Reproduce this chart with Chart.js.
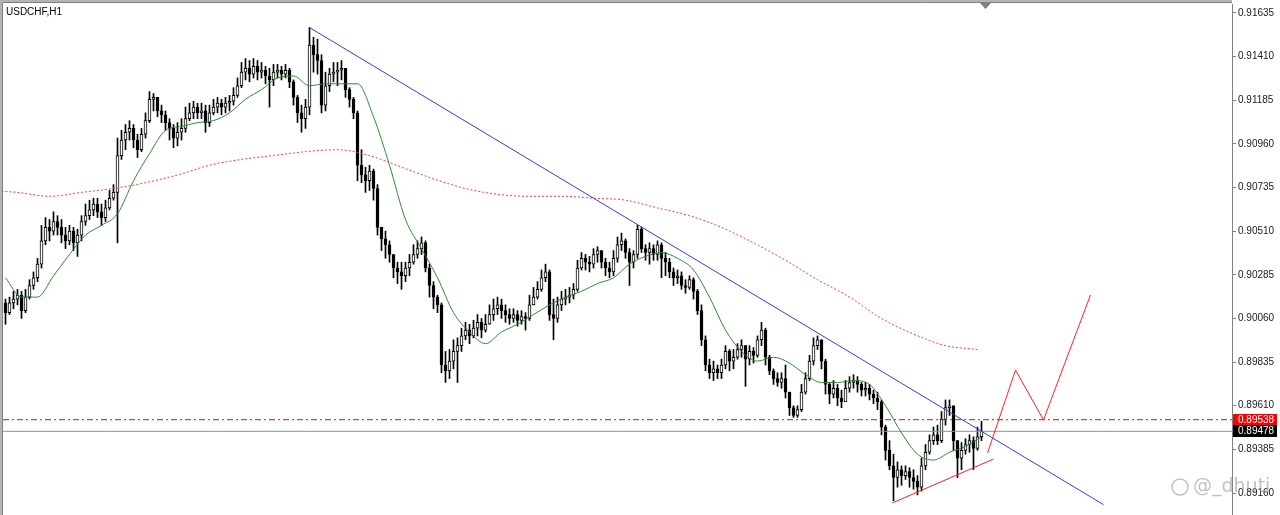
<!DOCTYPE html>
<html>
<head>
<meta charset="utf-8">
<script src="https://cdn.jsdelivr.net/npm/chart.js@4.4.1/dist/chart.umd.min.js"></script>
<style>
  html, body { margin: 0; padding: 0; background: #fff; overflow: hidden; }
  #wrap { width: 1280px; height: 515px; }
</style>
</head>
<body>
<div id="wrap"><canvas id="chart" width="1280" height="515"></canvas></div>
<script>
const symbol = 'USDCHF,H1';

// H1 candles, oldest first
const opens = [
  .9014,.9009,.9014,.9016,.9018,.9010,.9017,.9023,.9027,.9034,
  .9046,.9053,.9051,.9056,.9053,.9049,.9046,.9051,.9045,.9049,
  .9056,.9059,.9062,.9065,.9061,.9058,.9063,.9068,.9071,.9090,
  .9098,.9102,.9104,.9098,.9093,.9101,.9108,.9119,.9120,.9113,
  .9111,.9107,.9104,.9099,.9102,.9104,.9109,.9112,.9115,.9112,
  .9113,.9107,.9112,.9115,.9117,.9115,.9117,.9118,.9121,.9126,
  .9133,.9135,.9132,.9136,.9133,.9134,.9131,.9129,.9133,.9134,
  .9132,.9134,.9128,.9120,.9112,.9109,.9115,.9147,.9142,.9139,
  .9116,.9126,.9132,.9133,.9134,.9135,.9124,.9119,.9112,.9085,
  .9080,.9077,.9082,.9073,.9053,.9047,.9044,.9039,.9032,.9030,
  .9028,.9032,.9035,.9039,.9042,.9045,.9032,.9023,.9017,.9013,
  .8982,.8979,.8984,.8989,.8992,.8997,.9000,.8997,.9001,.9004,
  .9000,.9003,.9008,.9011,.9013,.9010,.9008,.9006,.9008,.9005,
  .9007,.9006,.9013,.9017,.9021,.9027,.9030,.9008,.9006,.9013,
  .9016,.9017,.9018,.9021,.9032,.9037,.9035,.9034,.9039,.9041,
  .9035,.9032,.9030,.9037,.9044,.9046,.9040,.9035,.9039,.9052,
  .9042,.9040,.9042,.9039,.9044,.9037,.9035,.9030,.9027,.9028,
  .9023,.9022,.9026,.9020,.9010,.8995,.8982,.8978,.8980,.8978,
  .8982,.8989,.8984,.8986,.8990,.8992,.8985,.8989,.8987,.8995,
  .9000,.8986,.8979,.8975,.8973,.8975,.8968,.8960,.8956,.8959,
  .8968,.8975,.8984,.8992,.8995,.8984,.8972,.8967,.8970,.8965,
  .8963,.8970,.8973,.8974,.8972,.8969,.8970,.8967,.8965,.8963,
  .8950,.8938,.8930,.8924,.8928,.8925,.8927,.8924,.8922,.8919,
  .8930,.8937,.8943,.8946,.8943,.8954,.8960,.8961,.8943,.8934,
  .8938,.8941,.8943,.8939,.8945
];
const highs = [
  .9016,.9017,.9020,.9021,.9020,.9021,.9026,.9030,.9037,.9054,
  .9058,.9057,.9061,.9059,.9057,.9053,.9054,.9053,.9052,.9059,
  .9065,.9067,.9068,.9068,.9065,.9067,.9072,.9075,.9099,.9103,
  .9106,.9108,.9106,.9101,.9104,.9112,.9123,.9122,.9120,.9116,
  .9113,.9109,.9106,.9107,.9109,.9115,.9117,.9118,.9117,.9117,
  .9116,.9116,.9119,.9120,.9119,.9120,.9121,.9125,.9130,.9138,
  .9140,.9139,.9140,.9139,.9138,.9136,.9135,.9137,.9137,.9136,
  .9137,.9135,.9129,.9121,.9116,.9119,.9156,.9151,.9150,.9142,
  .9133,.9135,.9138,.9138,.9139,.9135,.9125,.9120,.9113,.9093,
  .9084,.9085,.9083,.9075,.9053,.9051,.9046,.9039,.9035,.9035,
  .9035,.9039,.9044,.9046,.9048,.9046,.9034,.9025,.9018,.9014,
  .8989,.8990,.8995,.8996,.9001,.9004,.9003,.9005,.9008,.9006,
  .9008,.9013,.9016,.9017,.9016,.9013,.9011,.9011,.9010,.9010,
  .9009,.9018,.9022,.9025,.9031,.9034,.9031,.9016,.9017,.9020,
  .9021,.9022,.9024,.9036,.9040,.9039,.9038,.9042,.9043,.9041,
  .9037,.9035,.9041,.9048,.9050,.9047,.9042,.9041,.9054,.9053,
  .9044,.9045,.9044,.9046,.9045,.9040,.9037,.9032,.9031,.9030,
  .9026,.9028,.9027,.9021,.9013,.8997,.8985,.8984,.8982,.8985,
  .8992,.8990,.8990,.8993,.8995,.8992,.8992,.8991,.8997,.9004,
  .9001,.8987,.8980,.8978,.8978,.8982,.8968,.8961,.8961,.8972,
  .8978,.8987,.8996,.8997,.8995,.8985,.8973,.8974,.8972,.8969,
  .8974,.8976,.8977,.8976,.8973,.8973,.8972,.8969,.8968,.8964,
  .8951,.8943,.8936,.8932,.8930,.8930,.8929,.8928,.8925,.8934,
  .8941,.8946,.8950,.8951,.8958,.8964,.8964,.8961,.8943,.8942,
  .8944,.8946,.8945,.8950,.8953
];
const lows = [
  .9003,.9008,.9011,.9013,.9006,.9009,.9016,.9021,.9025,.9032,
  .9044,.9046,.9049,.9049,.9045,.9042,.9044,.9041,.9038,.9046,
  .9054,.9057,.9059,.9058,.9054,.9056,.9062,.9067,.9045,.9088,
  .9093,.9098,.9094,.9089,.9092,.9099,.9107,.9113,.9110,.9107,
  .9103,.9098,.9094,.9095,.9098,.9102,.9108,.9109,.9109,.9109,
  .9102,.9105,.9111,.9112,.9111,.9112,.9113,.9116,.9120,.9125,
  .9129,.9128,.9130,.9129,.9130,.9127,.9115,.9126,.9130,.9129,
  .9130,.9125,.9116,.9107,.9102,.9104,.9111,.9133,.9132,.9112,
  .9113,.9123,.9128,.9126,.9129,.9120,.9115,.9109,.9077,.9076,
  .9071,.9072,.9067,.9049,.9041,.9037,.9035,.9027,.9024,.9021,
  .9025,.9028,.9034,.9037,.9039,.9030,.9017,.9011,.9009,.8978,
  .8973,.8975,.8980,.8973,.8989,.8995,.8993,.8996,.8997,.8996,
  .8999,.9003,.9005,.9008,.9006,.9004,.9003,.9004,.9002,.9003,
  .9000,.9005,.9013,.9016,.9020,.9025,.9005,.8995,.9004,.9010,
  .9013,.9014,.9016,.9020,.9031,.9031,.9030,.9032,.9035,.9032,
  .9028,.9027,.9028,.9035,.9041,.9037,.9023,.9032,.9037,.9040,
  .9036,.9034,.9036,.9036,.9027,.9028,.9027,.9023,.9024,.9021,
  .9019,.9021,.9016,.9008,.8992,.8979,.8975,.8974,.8975,.8975,
  .8980,.8979,.8980,.8985,.8986,.8971,.8982,.8983,.8986,.8992,
  .8982,.8977,.8972,.8971,.8970,.8965,.8956,.8955,.8955,.8958,
  .8967,.8974,.8982,.8990,.8980,.8967,.8962,.8965,.8961,.8960,
  .8965,.8968,.8970,.8968,.8966,.8966,.8964,.8962,.8959,.8946,
  .8933,.8928,.8912,.8919,.8920,.8923,.8919,.8918,.8915,.8917,
  .8928,.8936,.8941,.8941,.8942,.8951,.8956,.8938,.8924,.8928,
  .8936,.8937,.8928,.8938,.8943
];
const closes = [
  .9009,.9014,.9016,.9018,.9010,.9017,.9023,.9027,.9034,.9046,
  .9053,.9051,.9056,.9053,.9049,.9046,.9051,.9045,.9049,.9056,
  .9059,.9062,.9065,.9061,.9058,.9063,.9068,.9071,.9090,.9098,
  .9102,.9104,.9098,.9093,.9101,.9108,.9119,.9120,.9113,.9111,
  .9107,.9104,.9099,.9102,.9104,.9109,.9112,.9115,.9112,.9113,
  .9107,.9112,.9115,.9117,.9115,.9117,.9118,.9121,.9126,.9133,
  .9135,.9132,.9136,.9133,.9134,.9131,.9129,.9133,.9134,.9132,
  .9134,.9128,.9120,.9112,.9109,.9115,.9147,.9142,.9139,.9116,
  .9126,.9132,.9133,.9134,.9135,.9124,.9119,.9112,.9085,.9080,
  .9077,.9082,.9073,.9053,.9047,.9044,.9039,.9032,.9030,.9028,
  .9032,.9035,.9039,.9042,.9045,.9032,.9023,.9017,.9013,.8982,
  .8979,.8984,.8989,.8992,.8997,.9000,.8997,.9001,.9004,.9000,
  .9003,.9008,.9011,.9013,.9010,.9008,.9006,.9008,.9005,.9007,
  .9006,.9013,.9017,.9021,.9027,.9030,.9008,.9006,.9013,.9016,
  .9017,.9018,.9021,.9032,.9037,.9035,.9034,.9039,.9041,.9035,
  .9032,.9030,.9037,.9044,.9046,.9040,.9035,.9039,.9052,.9042,
  .9040,.9042,.9039,.9044,.9037,.9035,.9030,.9027,.9028,.9023,
  .9022,.9026,.9020,.9010,.8995,.8982,.8978,.8980,.8978,.8982,
  .8989,.8984,.8986,.8990,.8992,.8985,.8989,.8987,.8995,.9000,
  .8986,.8979,.8975,.8973,.8975,.8968,.8960,.8956,.8959,.8968,
  .8975,.8984,.8992,.8995,.8984,.8972,.8967,.8970,.8965,.8963,
  .8970,.8973,.8974,.8972,.8969,.8970,.8967,.8965,.8963,.8950,
  .8938,.8930,.8924,.8928,.8925,.8927,.8924,.8922,.8919,.8930,
  .8937,.8943,.8946,.8943,.8954,.8960,.8961,.8943,.8934,.8938,
  .8941,.8943,.8939,.8945,.89478
];

// green MA, one value every 4 bars from bar 0
const greenMa = [
  .9027,.9017,.9017,.9028,.9039,.9049,.9054,.9060,.9077,.9091,
  .9103,.9105,.9107,.9108,.9112,.9119,.9124,.9130,.9131,.9126,
  .9127,.9127,.9127,.9110,.9085,.9057,.9042,.9027,.9009,.8999,
  .8993,.8999,.9003,.9008,.9013,.9017,.9020,.9024,.9027,.9034,
  .9038,.9040,.9037,.9031,.9017,.9000,.8989,.8984,.8986,.8983,
  .8977,.8973,.8973,.8974,.8972,.8961,.8947,.8936,.8933,.8937,
  .8940,.8945
];
// red dotted MA, one value every 8 bars from bar -5
const redMa = [
  .9072,.9071,.9069,.9071,.9073,.9076,.9080,.9085,.9088,.9090,.9092,
  .9093,.9090,.9084,.9078,.9073,.9070,.9069,.9069,.9068,.9067,
  .9063,.9059,.9053,.9045,.9036,.9026,.9017,.9006,.8998,.8992,
  .8990
];

const priceTicks = [0.91635, 0.91410, 0.91185, 0.90960, 0.90735, 0.90510,
                    0.90285, 0.90060, 0.89835, 0.89610, 0.89385, 0.89160];
const askPrice = 0.89538;
const bidPrice = 0.89478;

// drawn objects: [bar, price]
const trendBlue = [[76, 0.9156], [274.5, 0.8910]];
const supportRed = [[221.75, 0.89109], [247, 0.89335]];
const projectionRed = [[245.5, 0.89366], [252.5, 0.89794], [259.5, 0.89537], [271.25, 0.90181]];

const xMin = -0.625;
const xMax = 306.625;

let wicks = [];
let bodies = [];
let bodyColors = [];
for (let i = 0; i < closes.length; i++) {
    wicks.push({x: i, y: [lows[i], highs[i]]});
    bodies.push({x: i, y: [Math.min(opens[i], closes[i]), Math.max(opens[i], closes[i])]});
    bodyColors.push(closes[i] > opens[i] ? '#ffffff' : '#000000');
}
const toPts = (arr) => arr.map(p => ({x: p[0], y: p[1]}));

const decor = {
    id: 'decor',
    beforeDraw(chart) {
        const ctx = chart.ctx;
        ctx.save();
        ctx.fillStyle = '#ffffff';
        ctx.fillRect(0, 0, chart.width, chart.height);
        ctx.restore();
    },
    afterDraw(chart) {
        const ctx = chart.ctx;
        const area = chart.chartArea;
        const y = chart.scales.y;
        ctx.save();
        // frame
        ctx.fillStyle = '#b4b4b4';
        ctx.fillRect(0, 0, 2, chart.height);
        ctx.fillRect(0, 0, area.right, 2);
        ctx.strokeStyle = '#808080';
        ctx.lineWidth = 1;
        ctx.beginPath();
        ctx.moveTo(2.5, chart.height);
        ctx.lineTo(2.5, 2.5);
        ctx.lineTo(area.right, 2.5);
        ctx.stroke();

        // symbol
        ctx.fillStyle = '#000';
        ctx.font = '10px "Liberation Sans", Arial, sans-serif';
        ctx.textBaseline = 'middle';
        ctx.textAlign = 'left';
        ctx.fillText(symbol, 6, 12);

        // chart shift marker
        ctx.fillStyle = '#7f7f7f';
        ctx.beginPath();
        ctx.moveTo(980, 3);
        ctx.lineTo(991, 3);
        ctx.lineTo(985.5, 9);
        ctx.closePath();
        ctx.fill();

        // price labels
        const boxes = [[askPrice, '#ff0000'], [bidPrice, '#000000']];
        boxes.forEach(([p, col]) => {
            const py = Math.round(y.getPixelForValue(p));
            ctx.fillStyle = col;
            ctx.fillRect(area.right + 1, py - 6, 44, 12);
            ctx.fillStyle = '#fff';
            ctx.fillText(p.toFixed(5), area.right + 6, py + 0.5);
        });

        // watermark
        ctx.strokeStyle = 'rgba(150,150,150,0.6)';
        ctx.fillStyle = 'rgba(150,150,150,0.6)';
        ctx.lineWidth = 1.5;
        ctx.beginPath();
        ctx.arc(1180, 487, 8, 0, Math.PI * 2);
        ctx.stroke();
        ctx.font = '19px "DejaVu Sans", sans-serif';
        ctx.fillText('@_dhuti', 1193, 487);
        ctx.restore();
    }
};

const chartEl = document.getElementById('chart').getContext('2d');
const chart = new Chart(chartEl, {
    type: 'bar',
    data: {
        datasets: [
            {
                type: 'line', label: 'trend', data: toPts(trendBlue), order: 1,
                borderColor: '#3c3cd2', borderWidth: 1, pointRadius: 0
            },
            {
                type: 'line', label: 'support', data: toPts(supportRed), order: 1,
                borderColor: '#ff2020', borderWidth: 1, pointRadius: 0
            },
            {
                type: 'line', label: 'projection', data: toPts(projectionRed), order: 1,
                borderColor: '#ff2020', borderWidth: 1, pointRadius: 0
            },
            {
                type: 'line', label: 'ma fast', order: 2,
                data: greenMa.map((v, k) => ({x: k * 4, y: v})),
                borderColor: '#2e8b2e', borderWidth: 1, pointRadius: 0,
                cubicInterpolationMode: 'monotone'
            },
            {
                type: 'line', label: 'ma slow', order: 2,
                data: redMa.map((v, k) => ({x: -5 + k * 8, y: v})),
                borderColor: '#ff3c3c', borderWidth: 1, borderDash: [2, 2], pointRadius: 0,
                cubicInterpolationMode: 'monotone'
            },
            {
                type: 'line', label: 'ask', order: 3,
                data: [{x: xMin, y: askPrice}, {x: xMax, y: askPrice}],
                borderColor: '#ff0000', borderWidth: 1, borderDash: [6, 3, 2, 3], pointRadius: 0
            },
            {
                type: 'line', label: 'bid', order: 3,
                data: [{x: xMin, y: bidPrice}, {x: xMax, y: bidPrice}],
                borderColor: '#8593a0', borderWidth: 1, pointRadius: 0
            },
            {
                label: 'body', data: bodies, order: 5, grouped: false,
                backgroundColor: bodyColors, borderColor: '#000', borderWidth: 1,
                borderSkipped: false, barThickness: 3, minBarLength: 1
            },
            {
                label: 'wick', data: wicks, order: 6, grouped: false,
                backgroundColor: '#000', borderWidth: 0, barThickness: 1
            }
        ]
    },
    options: {
        responsive: false,
        animation: false,
        devicePixelRatio: 1,
        layout: { padding: { left: 3, top: 4, right: 0, bottom: 0 } },
        plugins: { legend: { display: false }, tooltip: { enabled: false } },
        scales: {
            x: {
                type: 'linear', display: false, min: xMin, max: xMax,
                offset: false, grid: { display: false }
            },
            y: {
                position: 'right',
                min: 0.890466, max: 0.916814,
                grid: { drawOnChartArea: false, drawTicks: true, tickLength: 4, color: '#808080' },
                border: { display: true, color: '#808080' },
                afterBuildTicks: (axis) => { axis.ticks = priceTicks.map(v => ({value: v})); },
                afterFit: (axis) => {
                    axis.width = 48;
                    axis.paddingTop = 0;
                    axis.paddingBottom = 0;
                },
                ticks: {
                    padding: 2,
                    color: '#202020',
                    font: { family: '"Liberation Sans", Arial, sans-serif', size: 10 },
                    callback: (v) => Number(v).toFixed(5)
                }
            }
        }
    },
    plugins: [decor]
});
</script>
</body>
</html>
